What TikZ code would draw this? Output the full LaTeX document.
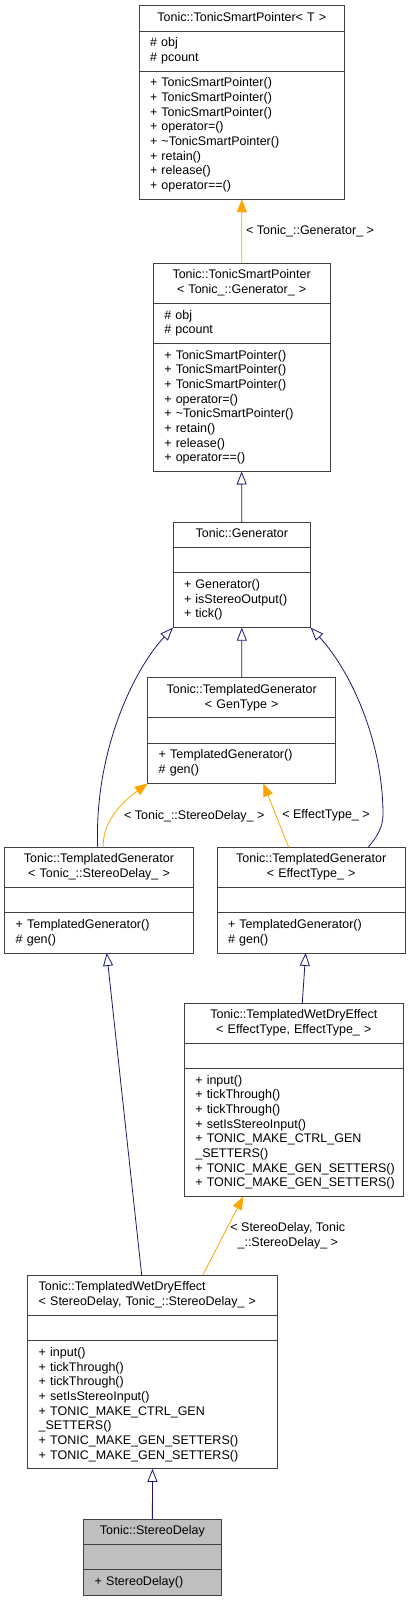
\documentclass[tikz,border=0pt]{standalone}
\usepackage{fontspec}
\setmainfont{Liberation Sans}
\usetikzlibrary{arrows.meta,positioning}
\definecolor{Edge}{HTML}{404040}
\definecolor{Inherit}{HTML}{191970}
\definecolor{Tmpl}{HTML}{FFA500}
\definecolor{Focus}{HTML}{BFBFBF}

\begin{document}
\begin{tikzpicture}[
    x=1pt, y=-1pt,
    font=\fontsize{12.5}{14.65}\selectfont,
    box/.style={draw=Edge, fill=white, line width=.9pt, outer sep=0pt,
      inner xsep=11pt, inner ysep=5.4pt,
      execute at begin node=\strut, execute at end node=\strut},
    hd/.style={box, align=center, anchor=north west},
    hdl/.style={box, align=left, anchor=north west},
    fld/.style={box, align=left, below=0pt of #1},
    inh/.style={-{Triangle[length=13pt,width=10pt,fill=white]}, Inherit, line width=.8pt},
    tmpl/.style={-{Triangle[length=13pt,width=10pt]}, Tmpl, line width=.8pt},
    lbl/.style={text=black, align=center, inner sep=1pt}
  ]
  \useasboundingbox (0,0) rectangle (411,1601);

  % TonicSmartPointer< T >
  \node[hd, text width=183.7pt] (tspT) at (139,5.7) {Tonic::TonicSmartPointer<~T~>};
  \node[fld=tspT, text width=183.7pt] (tspT-a) {\# obj\\\# pcount};
  \node[fld=tspT-a, text width=183.7pt] (tspT-m) {+ TonicSmartPointer()\\+ TonicSmartPointer()\\+ TonicSmartPointer()\\+ operator=()\\+ \textasciitilde TonicSmartPointer()\\+ retain()\\+ release()\\+ operator==()};

  % TonicSmartPointer< Generator_ >
  \node[hd, text width=154.7pt] (tspGen) at (153.3,263.3) {Tonic::TonicSmartPointer\\<~Tonic\_::Generator\_~>};
  \node[fld=tspGen, text width=154.7pt] (tspGen-a) {\# obj\\\# pcount};
  \node[fld=tspGen-a, text width=154.7pt] (tspGen-m) {+ TonicSmartPointer()\\+ TonicSmartPointer()\\+ TonicSmartPointer()\\+ operator=()\\+ \textasciitilde TonicSmartPointer()\\+ retain()\\+ release()\\+ operator==()};

  % Generator
  \node[hd, text width=115.7pt] (gen) at (173,522) {Tonic::Generator};
  \node[fld=gen, text width=115.7pt] (gen-a) {};
  \node[fld=gen-a, text width=115.7pt] (gen-m) {+ Generator()\\+ isStereoOutput()\\+ tick()};

  % TemplatedGenerator< GenType >
  \node[hd, text width=166pt] (tgGen) at (147.7,677.7) {Tonic::TemplatedGenerator\\<~GenType~>};
  \node[fld=tgGen, text width=166pt] (tgGen-a) {};
  \node[fld=tgGen-a, text width=166pt] (tgGen-m) {+ TemplatedGenerator()\\\# gen()};

  % TemplatedGenerator< StereoDelay_ >
  \node[hd, text width=166.6pt] (tgSD) at (4.7,847.3) {Tonic::TemplatedGenerator\\<~Tonic\_::StereoDelay\_~>};
  \node[fld=tgSD, text width=166.6pt] (tgSD-a) {};
  \node[fld=tgSD-a, text width=166.6pt] (tgSD-m) {+ TemplatedGenerator()\\\# gen()};

  % TemplatedGenerator< EffectType_ >
  \node[hd, text width=166.3pt] (tgET) at (217,847.3) {Tonic::TemplatedGenerator\\<~EffectType\_~>};
  \node[fld=tgET, text width=166.3pt] (tgET-a) {};
  \node[fld=tgET-a, text width=166.3pt] (tgET-m) {+ TemplatedGenerator()\\\# gen()};

  % TemplatedWetDryEffect< EffectType, EffectType_ >
  \node[hd, text width=197pt] (wdET) at (184.3,1003) {Tonic::TemplatedWetDryEffect\\<~EffectType, EffectType\_~>};
  \node[fld=wdET, text width=197pt] (wdET-a) {};
  \node[fld=wdET-a, text width=197pt] (wdET-m) {+ input()\\+ tickThrough()\\+ tickThrough()\\+ setIsStereoInput()\\+~TONIC\_MAKE\_CTRL\_GEN\\\_SETTERS()\\+~TONIC\_MAKE\_GEN\_SETTERS()\\+~TONIC\_MAKE\_GEN\_SETTERS()};

  % TemplatedWetDryEffect< StereoDelay, StereoDelay_ >
  \node[hdl, text width=227.6pt] (wdSD) at (27.7,1275.3) {Tonic::TemplatedWetDryEffect\\<~StereoDelay, Tonic\_::StereoDelay\_~>};
  \node[fld=wdSD, text width=227.6pt] (wdSD-a) {};
  \node[fld=wdSD-a, text width=227.6pt] (wdSD-m) {+ input()\\+ tickThrough()\\+ tickThrough()\\+ setIsStereoInput()\\+~TONIC\_MAKE\_CTRL\_GEN\\\_SETTERS()\\+~TONIC\_MAKE\_GEN\_SETTERS()\\+~TONIC\_MAKE\_GEN\_SETTERS()};

  % StereoDelay
  \node[hd, fill=Focus, text width=115.3pt] (sd) at (83.7,1519) {Tonic::StereoDelay};
  \node[fld=sd, fill=Focus, text width=115.3pt] (sd-a) {};
  \node[fld=sd-a, fill=Focus, text width=115.3pt] (sd-m) {+ StereoDelay()};

  % template instances
  \draw[tmpl] (tspGen.north) -- node[lbl, right=3pt, midway] (l-gen) {<~Tonic\_::Generator\_~>} (tspT-m.south);
  \draw[tmpl] ([xshift=4.3pt]tgSD.north) .. controls (102,820) and (125,800) .. (tgGen-m.south west)
    node[lbl, pos=.42, right=10pt] (l-sd) {<~Tonic\_::StereoDelay\_~>};
  \draw[tmpl] ([xshift=-22.5pt]tgET.north) -- node[lbl, right=5pt, midway] (l-et) {<~EffectType\_~>} ([xshift=21.6pt]tgGen-m.south);
  \draw[tmpl] ([xshift=50.2pt]wdSD.north) -- node[lbl, right=6pt, pos=.5] (l-wd) {<~StereoDelay, Tonic\\\_::StereoDelay\_~>} ([xshift=-50.5pt]wdET-m.south);

  % inheritance
  \draw[inh] (gen.north) -- (tspGen-m.south);
  \draw[inh] (tgGen.north) -- (gen-m.south);
  \draw[inh] ([xshift=-1.3pt]tgSD.north) .. controls (94,750) and (135,668) .. (gen-m.south west);
  \draw[inh] ([xshift=57pt]tgET.north) .. controls (376,838) and (383,828) .. (383,815)
    .. controls (383,740) and (350,670) .. (gen-m.south east);
  \draw[inh] ([xshift=8.5pt]wdET.north) -- ([xshift=-5.5pt]tgET-m.south);
  \draw[inh] ([xshift=-10.8pt]wdSD.north) -- ([xshift=7.7pt]tgSD-m.south);
  \draw[inh] (sd.north) -- (wdSD-m.south);
\end{tikzpicture}
\end{document}
